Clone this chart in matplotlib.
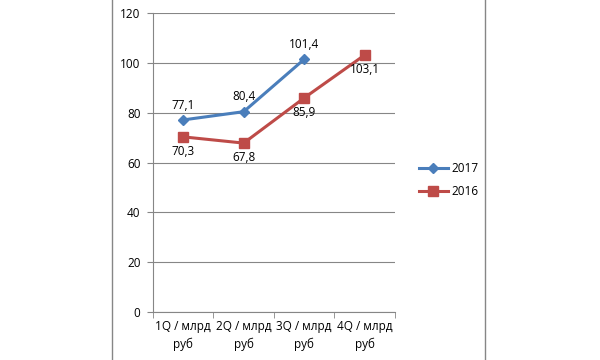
import matplotlib.pyplot as plt
from matplotlib.lines import Line2D

plt.rcParams['font.family'] = ['Open Sans', 'DejaVu Sans']

categories = ['1Q / млрд\nруб', '2Q / млрд\nруб', '3Q / млрд\nруб', '4Q / млрд\nруб']
vals_2017 = [77.1, 80.4, 101.4]
vals_2016 = [70.3, 67.8, 85.9, 103.1]
blue = '#4A7EBB'
red = '#BE4B48'
grid = '#868686'
fs = 8.5

fig = plt.figure(figsize=(6, 3.6), dpi=100)
ax = fig.add_axes([0.255, 0.133, 0.403, 0.831])

x17 = list(range(len(vals_2017)))
x16 = list(range(len(vals_2016)))
ax.plot(x17, vals_2017, color=blue, lw=2.2, marker='D', ms=5.5, label='2017')
ax.plot(x16, vals_2016, color=red, lw=2.2, marker='s', ms=7, label='2016')

for x, v in zip(x17, vals_2017):
    ax.annotate(f'{v:.1f}'.replace('.', ','), (x, v), xytext=(0, 6),
                textcoords='offset points', ha='center', va='bottom', fontsize=fs)
for x, v in zip(x16, vals_2016):
    ax.annotate(f'{v:.1f}'.replace('.', ','), (x, v), xytext=(0, -6),
                textcoords='offset points', ha='center', va='top', fontsize=fs)

ax.set_xlim(-0.5, len(categories) - 0.5)
ax.set_ylim(0, 120)
ax.set_yticks(range(0, 121, 20))
ax.set_xticks(range(len(categories)))
ax.set_xticklabels(categories, fontsize=fs, linespacing=1.4)
ax.set_xticks([i - 0.5 for i in range(len(categories) + 1)], minor=True)
ax.tick_params(axis='x', which='major', length=0, pad=6)
ax.tick_params(axis='x', which='minor', length=4, color=grid)
ax.tick_params(axis='y', length=4, color=grid, labelsize=fs, pad=5)
ax.grid(axis='y', color=grid, lw=0.8)
ax.set_axisbelow(True)
for s in ['top', 'right']:
    ax.spines[s].set_visible(False)
for s in ['left', 'bottom']:
    ax.spines[s].set_color(grid)

handles = [Line2D([], [], color=blue, lw=2.2, marker='D', ms=5.5),
           Line2D([], [], color=red, lw=2.2, marker='s', ms=7)]
fig.legend(handles, ['2017', '2016'], loc='center left', bbox_to_anchor=(0.68, 0.5),
           frameon=False, fontsize=fs, handlelength=2.5, handletextpad=0.3,
           labelspacing=0.8)

fig.add_artist(Line2D([112 / 600, 112 / 600], [0, 1], color=grid, lw=1))
fig.add_artist(Line2D([485 / 600, 485 / 600], [0, 1], color=grid, lw=1))

fig.savefig('out.png')
